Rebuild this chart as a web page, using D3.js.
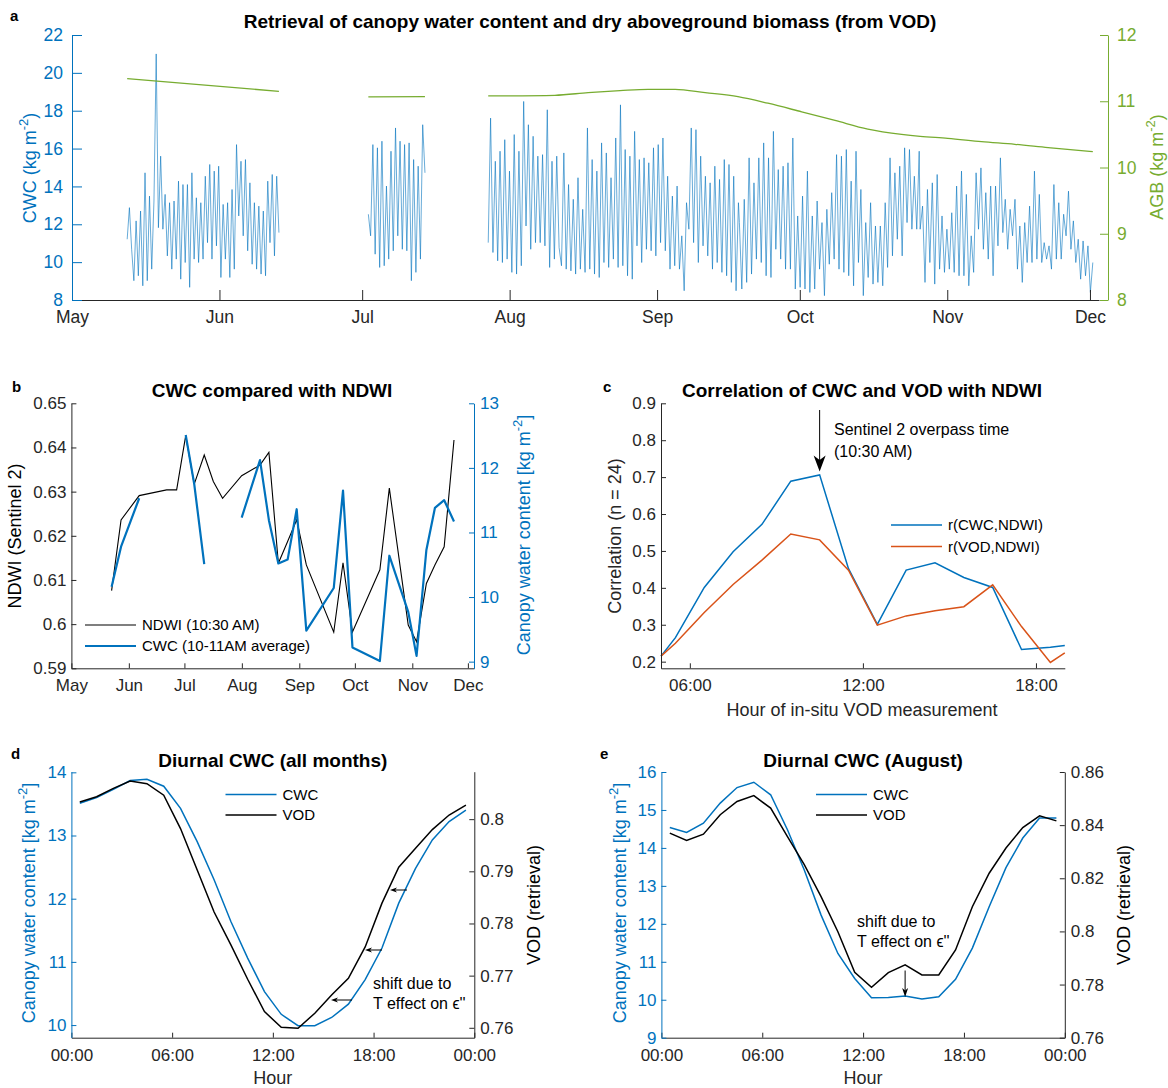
<!DOCTYPE html>
<html>
<head>
<meta charset="utf-8">
<script src="https://cdn.jsdelivr.net/npm/d3@7"></script>
<style>
  body { margin: 0; background: #fff; }
  svg { display: block; }
</style>
</head>
<body>
<svg id="fig" width="1168" height="1088"></svg>
<script>
// ---------------------------------------------------------------------------
// Data
// ---------------------------------------------------------------------------

// Panel a: canopy water content, peaks and troughs of the diurnal cycle
// (kg m-2), one array per continuous stretch of record.
const cwcMayJun = [11.21, 12.88, 10.68, 9.02, 12.18, 9.28, 12.70, 8.75, 14.72, 9.02, 13.49, 9.63, 13.23, 21.0, 11.82, 15.60, 11.74, 13.58, 10.33, 13.14, 9.63, 13.23, 10.16, 14.28, 9.10, 14.10, 9.98, 14.10, 8.67, 14.72, 10.16, 13.40, 9.98, 13.14, 10.16, 14.54, 11.03, 15.16, 10.16, 14.81, 10.86, 15.07, 9.19, 13.05, 10.16, 13.14, 9.19, 13.84, 9.63, 16.21, 12.44, 15.33, 11.39, 15.42, 10.60, 14.19, 9.89, 13.14, 9.63, 12.96, 9.37, 12.70, 9.28, 14.28, 11.03, 14.63, 10.33, 14.54, 11.56];
const cwcJul = [12.53, 11.39, 16.21, 10.42, 16.04, 9.72, 16.39, 9.81, 14.02, 10.16, 15.86, 10.60, 17.09, 11.39, 16.39, 10.68, 16.21, 10.60, 16.30, 9.02, 15.42, 9.46, 15.07, 10.16, 17.26, 14.72];
const cwcLateJulAug = [11.03, 17.61, 10.51, 15.33, 10.07, 15.86, 9.98, 16.47, 10.16, 14.81, 9.46, 16.74, 9.37, 15.86, 9.81, 18.49, 11.91, 17.26, 10.68, 16.65, 11.03, 15.60, 11.03, 15.68, 10.86, 18.05, 9.72, 15.33, 10.16, 15.60, 10.77];
const cwcAugSep = [9.81, 15.77, 9.63, 14.10, 9.54, 13.32, 9.37, 14.46, 9.63, 12.79, 9.46, 17.09, 9.63, 15.42, 9.37, 14.81, 9.19, 16.30, 9.98, 15.77, 9.72, 14.46, 10.16, 16.56, 9.72, 18.31, 9.81, 15.95, 9.28, 15.60, 9.10, 16.91, 10.86, 15.42, 9.98, 15.51, 10.68, 15.25, 10.60, 16.04, 10.33, 16.21, 11.03, 16.56, 10.60, 14.54, 9.63, 13.49, 9.81, 14.02, 9.63, 11.39, 8.49, 13.14, 11.74, 17.09, 11.03, 17.00, 9.98, 15.60, 10.86, 14.54, 10.33, 14.19, 9.63, 15.07, 9.98, 14.37, 9.46, 15.42, 9.28, 15.16, 8.93, 14.54, 8.49, 13.14];
const cwcSepOct = [12.09, 8.58, 13.32, 8.93, 15.51, 9.37, 14.19, 10.16, 15.51, 9.98, 16.30, 9.28, 15.51, 9.19, 16.91, 10.68, 14.89, 10.16, 15.07, 9.63, 15.25, 9.63, 16.56, 8.58, 12.44, 8.67, 13.49, 8.58, 14.81, 8.40, 12.44, 8.58, 13.23, 9.63, 12.09, 8.23, 12.79, 9.89, 13.67, 10.16, 15.68, 9.63, 15.60, 9.46, 15.95, 9.28, 14.28, 8.75, 15.86, 9.98, 13.84, 8.23, 12.09, 9.19, 13.14, 8.84, 11.91, 8.93, 11.91, 8.75, 13.14, 9.72, 15.51, 10.33, 14.72, 11.21, 15.07, 10.33, 16.04, 12.09, 15.95, 11.74, 14.54, 11.74, 15.86];
const cwcOctNov = [11.74, 12.96, 8.93, 13.84, 9.98, 14.19, 8.84, 14.63, 9.63, 12.44, 9.46, 11.74, 9.63, 12.61, 9.46, 14.02, 9.28, 14.81, 9.28, 13.58, 8.75, 11.39, 9.46, 14.72, 11.74, 14.98, 10.68, 13.67, 10.16, 14.02, 9.28, 14.02, 10.86, 15.51, 11.56, 13.32, 10.68, 12.79, 11.39, 13.32, 9.63, 11.91, 8.93, 12.09, 9.98, 12.96, 9.98, 14.81, 10.16, 13.58, 9.98, 11.03, 10.16, 10.86, 9.63, 14.10, 10.16, 13.14, 10.16, 12.53, 11.39, 13.75, 10.68, 12.18, 9.98, 11.21, 9.10, 11.12, 9.28, 10.86, 8.40, 9.98];
// First and last day (days after 1 May) covered by each stretch above
const cwcSpans = [[11.6, 43.5], [62.3, 74.2], [87.5, 102.4], [102.9, 140.1], [140.3, 178.1], [178.3, 214.6]];

// Panel a: dry aboveground biomass (kg m-2)
const agbDays1 = [11.6, 43.5];
const agb1 = [11.34, 11.15];
const agbDays2 = [62.3, 74.2];
const agb2 = [11.065, 11.07];
const agbDays3 = [87.5, 101.5, 108.5, 115.2, 121.1, 126.8, 133.1, 140.0, 146.3, 153.4, 160.4, 167.3, 174.4, 178.3, 184.1, 191.2, 198.2, 205.2, 214.6];
const agb3 = [11.08, 11.09, 11.13, 11.16, 11.18, 11.18, 11.13, 11.07, 10.97, 10.84, 10.71, 10.58, 10.50, 10.47, 10.44, 10.39, 10.35, 10.30, 10.24];
const cwcTicksA = [8, 10, 12, 14, 16, 18, 20, 22];
const agbTicks = [8, 9, 10, 11, 12];

// Panel b: Sentinel-2 overpasses (days after 1 May), NDWI and 10-11 AM CWC
const s2Days = [21.7, 26.8, 36.6, 51.4, 56.8, 61.7, 66.3, 71.7, 76.6, 81.6, 91.9, 101.8, 106.6, 111.7, 116.7, 121.6, 126.8, 141.6, 146.6, 151.7, 166.5, 171.6, 181.8, 186.3, 191.6, 196.2, 201.2, 206.5];
const ndwi = [0.6076, 0.6236, 0.6291, 0.6304, 0.6304, 0.6427, 0.6317, 0.6383, 0.6323, 0.6285, 0.6336, 0.6360, 0.6389, 0.6138, 0.6187, 0.6236, 0.6134, 0.5982, 0.6139, 0.5982, 0.6123, 0.6308, 0.5998, 0.5960, 0.6092, 0.6134, 0.6175, 0.6417];
const cwcMorning = [10.16, 10.78, 11.53, null, null, 12.51, 11.75, 10.51, null, null, 11.23, 12.12, 11.19, 10.52, 10.58, 11.36, 9.48, 10.14, 11.65, 9.22, 9.01, 10.64, 9.77, 9.09, 10.73, 11.38, 11.50, 11.17];
const ndwiTicks = [0.59, 0.6, 0.61, 0.62, 0.63, 0.64, 0.65];
const cwcTicksB = [9, 10, 11, 12, 13];

// Panel c: correlation with NDWI by hour of the in-situ measurement
const corrHours = [5, 5.5, 6.5, 7.5, 8.5, 9.5, 10.5, 11.5, 12.5, 13.5, 14.5, 15.5, 16.5, 17.5, 18.5, 19];
const rCwcNdwi = [0.215, 0.265, 0.401, 0.498, 0.572, 0.689, 0.706, 0.452, 0.301, 0.448, 0.468, 0.428, 0.401, 0.233, 0.239, 0.244];
const rVodNdwi = [0.215, 0.250, 0.333, 0.409, 0.475, 0.546, 0.530, 0.448, 0.299, 0.324, 0.338, 0.349, 0.408, 0.295, 0.198, 0.224];
const corrTicks = [0.2, 0.3, 0.4, 0.5, 0.6, 0.7, 0.8, 0.9];
const corrHourTicks = [6, 12, 18];

// Panels d and e: mean diurnal cycles
const diurnalHours = [0.5, 1.5, 2.5, 3.5, 4.5, 5.5, 6.5, 7.5, 8.5, 9.5, 10.5, 11.5, 12.5, 13.5, 14.5, 15.5, 16.5, 17.5, 18.5, 19.5, 20.5, 21.5, 22.5, 23.5];
const cwcAllMonths = [13.51, 13.60, 13.73, 13.87, 13.89, 13.78, 13.43, 12.90, 12.30, 11.64, 11.06, 10.53, 10.17, 9.99, 9.99, 10.12, 10.33, 10.72, 11.22, 11.93, 12.48, 12.93, 13.22, 13.40];
const vodAllMonths = [0.8033, 0.8043, 0.8059, 0.8073, 0.8068, 0.8046, 0.7982, 0.7902, 0.7822, 0.7759, 0.7693, 0.7631, 0.7601, 0.7599, 0.7628, 0.7663, 0.7695, 0.7755, 0.7839, 0.7908, 0.7944, 0.7980, 0.8008, 0.8027];
const cwcAugust = [14.54, 14.41, 14.65, 15.18, 15.59, 15.73, 15.40, 14.48, 13.42, 12.23, 11.22, 10.56, 10.05, 10.06, 10.10, 10.02, 10.08, 10.54, 11.36, 12.45, 13.48, 14.26, 14.79, 14.79];
const vodAugust = [0.8370, 0.8342, 0.8366, 0.8439, 0.8489, 0.8511, 0.8464, 0.8357, 0.8251, 0.8131, 0.7999, 0.7846, 0.7790, 0.7845, 0.7874, 0.7836, 0.7836, 0.7930, 0.8093, 0.8219, 0.8314, 0.8391, 0.8435, 0.8416];
const hourTicks = [0, 6, 12, 18, 24];
const hourTickLabels = ["00:00", "06:00", "12:00", "18:00", "00:00"];
const cwcTicksD = [10, 11, 12, 13, 14];
const vodTicksD = [0.76, 0.77, 0.78, 0.79, 0.8];
const cwcTicksE = [9, 10, 11, 12, 13, 14, 15, 16];
const vodTicksE = [0.76, 0.78, 0.8, 0.82, 0.84, 0.86];

// ---------------------------------------------------------------------------
// Styling and helpers
// ---------------------------------------------------------------------------
const BLUE = "#0072BD", GREEN = "#77AC30", ORANGE = "#D95319", INK = "#262626";
const FONT = '"Liberation Sans", Arial, Helvetica, sans-serif';
const TICK_FS = 17, LABEL_FS = 18, TITLE_FS = 19, LEGEND_FS = 15, NOTE_FS = 16;

const day0 = Date.UTC(2019, 4, 1);
const dt = d => new Date(day0 + d * 864e5);
// Tick numbers without trailing zeros (0.6, 12)
const trim = v => String(+(+v).toFixed(3));

const svg = d3.select("#fig").attr("font-family", FONT);

function styleAxis(g, color, fs) {
  g.attr("font-family", FONT).attr("font-size", fs);
  g.select(".domain").attr("stroke", color).attr("stroke-width", 1);
  g.selectAll(".tick line").attr("stroke", color).attr("stroke-width", 1);
  g.selectAll(".tick text").attr("fill", color);
}

function addAxis(parent, gen, tx, ty, color, fs) {
  const g = parent.append("g").attr("transform", `translate(${tx},${ty})`).call(gen);
  styleAxis(g, color, fs);
  return g;
}

// Rotated axis label with an optional superscript part (e.g. kg m^-2)
function supLabel(parent, x, y, rot, pre, sup, post, color, fs) {
  const t = parent.append("text")
    .attr("transform", `translate(${x},${y}) rotate(${rot})`)
    .attr("text-anchor", "middle").attr("fill", color).attr("font-size", fs);
  t.append("tspan").text(pre);
  if (sup) {
    t.append("tspan").attr("dy", -0.45 * fs).attr("font-size", 0.72 * fs).text(sup);
    t.append("tspan").attr("dy", 0.45 * fs).text(post);
  }
  return t;
}

function text(parent, x, y, str, opts = {}) {
  return parent.append("text").attr("x", x).attr("y", y)
    .attr("font-size", opts.fs || LEGEND_FS)
    .attr("font-weight", opts.bold ? "bold" : "normal")
    .attr("text-anchor", opts.anchor || "start")
    .attr("fill", opts.color || "#000")
    .text(str);
}

// Straight arrow with a swept-back head
function arrow(parent, x1, y1, x2, y2, headLen, headW, color = "#000") {
  const dx = x2 - x1, dy = y2 - y1, L = Math.hypot(dx, dy);
  const ux = dx / L, uy = dy / L, px = -uy, py = ux;
  const bx = x2 - ux * headLen, by = y2 - uy * headLen;
  const nx = x2 - ux * headLen * 0.72, ny = y2 - uy * headLen * 0.72;
  parent.append("line").attr("x1", x1).attr("y1", y1).attr("x2", nx).attr("y2", ny)
    .attr("stroke", color).attr("stroke-width", 1);
  parent.append("path")
    .attr("d", `M${x2},${y2}L${bx + px * headW / 2},${by + py * headW / 2}L${nx},${ny}L${bx - px * headW / 2},${by - py * headW / 2}Z`)
    .attr("fill", color);
}

function legendRow(parent, x1, x2, y, color, width, label) {
  parent.append("line").attr("x1", x1).attr("x2", x2).attr("y1", y).attr("y2", y)
    .attr("stroke", color).attr("stroke-width", width);
  text(parent, x2 + 6, y + 5, label, { fs: LEGEND_FS });
}

// ---------------------------------------------------------------------------
// Panel a: CWC and AGB time series
// ---------------------------------------------------------------------------
{
  const g = svg.append("g");
  const x = d3.scaleUtc().domain([dt(0), dt(215.9)]).range([72, 1099]);
  const y = d3.scaleLinear().domain([8, 22]).range([300, 35]);
  const y2 = d3.scaleLinear().domain([8, 12]).range([300, 35]);

  const chunks = [cwcMayJun, cwcJul, cwcLateJulAug, cwcAugSep, cwcSepOct, cwcOctNov];
  const pts = [];
  chunks.forEach((vals, i) => {
    const [s, e] = cwcSpans[i];
    if (i > 0 && s - cwcSpans[i - 1][1] > 2) pts.push(null);
    vals.forEach((v, j) => pts.push({ t: dt(s + (e - s) * j / (vals.length - 1)), v }));
  });
  const line = d3.line().defined(d => d !== null).x(d => x(d.t)).y(d => y(d.v));
  g.append("path").datum(pts).attr("d", line)
    .attr("fill", "none").attr("stroke", BLUE).attr("stroke-width", 0.8)
    .attr("stroke-opacity", 0.75).attr("stroke-linejoin", "round");

  const agbLine = d3.line().curve(d3.curveMonotoneX).x(d => x(dt(d[0]))).y(d => y2(d[1]));
  [[agbDays1, agb1], [agbDays2, agb2], [agbDays3, agb3]].forEach(([days, vals]) => {
    g.append("path").datum(d3.zip(days, vals)).attr("d", agbLine)
      .attr("fill", "none").attr("stroke", GREEN).attr("stroke-width", 1.3);
  });

  addAxis(g, d3.axisBottom(x).ticks(d3.utcMonth.every(1)).tickFormat(d3.utcFormat("%b"))
    .tickSizeInner(-10).tickSizeOuter(0).tickPadding(11), 0, 300, INK, 17.5);
  addAxis(g, d3.axisLeft(y).tickValues(cwcTicksA).tickFormat(trim).tickSizeInner(-10).tickSizeOuter(0).tickPadding(9),
    72, 0, BLUE, 17.5);
  addAxis(g, d3.axisRight(y2).tickValues(agbTicks).tickFormat(trim).tickSizeInner(-8).tickSizeOuter(0).tickPadding(9),
    1108, 0, GREEN, 17.5);

  supLabel(g, 36, 168, -90, "CWC (kg m", "-2", ")", BLUE, LABEL_FS);
  supLabel(g, 1163, 167, -90, "AGB (kg m", "-2", ")", GREEN, LABEL_FS);
  text(g, 590, 28, "Retrieval of canopy water content and dry aboveground biomass (from VOD)",
    { fs: TITLE_FS, bold: true, anchor: "middle" });
  text(g, 10, 21, "a", { fs: 15, bold: true });
}

// ---------------------------------------------------------------------------
// Panel b: CWC compared with NDWI
// ---------------------------------------------------------------------------
{
  const g = svg.append("g");
  const x = d3.scaleUtc().domain([dt(0), dt(217.3)]).range([71.4, 474]);
  const y = d3.scaleLinear().domain([0.59, 0.65]).range([668.3, 403.3]);
  const y2 = d3.scaleLinear().domain([8.897, 13]).range([668.3, 403.3]);

  g.append("path").datum(d3.zip(s2Days, ndwi))
    .attr("d", d3.line().x(d => x(dt(d[0]))).y(d => y(d[1])))
    .attr("fill", "none").attr("stroke", "#000").attr("stroke-width", 1.1);
  g.append("path").datum(d3.zip(s2Days, cwcMorning))
    .attr("d", d3.line().defined(d => d[1] !== null).x(d => x(dt(d[0]))).y(d => y2(d[1])))
    .attr("fill", "none").attr("stroke", BLUE).attr("stroke-width", 2.2).attr("stroke-linejoin", "round");

  addAxis(g, d3.axisBottom(x).ticks(d3.utcMonth.every(1)).tickFormat(d3.utcFormat("%b"))
    .tickSizeInner(-5).tickSizeOuter(0).tickPadding(11), 0, 668.3, INK, TICK_FS);
  addAxis(g, d3.axisLeft(y).tickValues(ndwiTicks).tickFormat(trim).tickSizeInner(-5).tickSizeOuter(0).tickPadding(5),
    71.4, 0, INK, TICK_FS);
  addAxis(g, d3.axisRight(y2).tickValues(cwcTicksB).tickFormat(trim).tickSizeInner(-5).tickSizeOuter(0).tickPadding(6),
    474, 0, BLUE, TICK_FS);

  supLabel(g, 21, 536, -90, "NDWI (Sentinel 2)", null, null, "#000", LABEL_FS);
  supLabel(g, 530, 535, -90, "Canopy water content [kg m", "-2", "]", BLUE, LABEL_FS);
  text(g, 272, 397, "CWC compared with NDWI", { fs: TITLE_FS, bold: true, anchor: "middle" });
  text(g, 12, 392, "b", { fs: 15, bold: true });

  legendRow(g, 85, 136, 625, "#000", 1.1, "NDWI (10:30 AM)");
  legendRow(g, 85, 136, 646, BLUE, 2.2, "CWC (10-11AM average)");
}

// ---------------------------------------------------------------------------
// Panel c: correlation of CWC and VOD with NDWI
// ---------------------------------------------------------------------------
{
  const g = svg.append("g");
  const x = d3.scaleLinear().domain([5, 19]).range([661, 1064.8]);
  const y = d3.scaleLinear().domain([0.182, 0.9]).range([668.3, 403.3]);
  const line = d3.line().x(d => x(d[0])).y(d => y(d[1]));

  g.append("path").datum(d3.zip(corrHours, rCwcNdwi)).attr("d", line)
    .attr("fill", "none").attr("stroke", BLUE).attr("stroke-width", 1.5);
  g.append("path").datum(d3.zip(corrHours, rVodNdwi)).attr("d", line)
    .attr("fill", "none").attr("stroke", ORANGE).attr("stroke-width", 1.5);

  addAxis(g, d3.axisBottom(x).tickValues(corrHourTicks)
    .tickFormat(h => String(h % 24).padStart(2, "0") + ":00")
    .tickSizeInner(-5).tickSizeOuter(0).tickPadding(11), 0, 668.3, INK, TICK_FS);
  addAxis(g, d3.axisLeft(y).tickValues(corrTicks).tickFormat(trim).tickSizeInner(-5).tickSizeOuter(0).tickPadding(5),
    661, 0, INK, TICK_FS);

  supLabel(g, 621, 536, -90, "Correlation (n = 24)", null, null, INK, LABEL_FS);
  text(g, 862, 716, "Hour of in-situ VOD measurement", { fs: LABEL_FS, anchor: "middle", color: INK });
  text(g, 862, 397, "Correlation of CWC and VOD with NDWI", { fs: TITLE_FS, bold: true, anchor: "middle" });
  text(g, 603, 392, "c", { fs: 15, bold: true });

  arrow(g, x(10.5), 410, x(10.5), 471.5, 16, 12);
  text(g, 834, 435, "Sentinel 2 overpass time", { fs: NOTE_FS });
  text(g, 834, 457, "(10:30 AM)", { fs: NOTE_FS });

  legendRow(g, 891, 942, 525, BLUE, 1.5, "r(CWC,NDWI)");
  legendRow(g, 891, 942, 546.5, ORANGE, 1.5, "r(VOD,NDWI)");
}

// ---------------------------------------------------------------------------
// Panels d and e: diurnal CWC and VOD
// ---------------------------------------------------------------------------
function diurnalPanel(o) {
  const g = svg.append("g");
  const x = d3.scaleLinear().domain([0, 24]).range([o.left, o.right]);
  const y = d3.scaleLinear().domain(o.cwcDomain).range([1037.7, o.top]);
  const y2 = d3.scaleLinear().domain(o.vodDomain).range([1037.7, o.top]);

  g.append("path").datum(d3.zip(diurnalHours, o.cwc))
    .attr("d", d3.line().x(d => x(d[0])).y(d => y(d[1])))
    .attr("fill", "none").attr("stroke", BLUE).attr("stroke-width", 1.5);
  g.append("path").datum(d3.zip(diurnalHours, o.vod))
    .attr("d", d3.line().x(d => x(d[0])).y(d => y2(d[1])))
    .attr("fill", "none").attr("stroke", "#000").attr("stroke-width", 1.5);

  addAxis(g, d3.axisBottom(x).tickValues(hourTicks).tickFormat((d, i) => hourTickLabels[i])
    .tickSizeInner(-5).tickSizeOuter(0).tickPadding(11), 0, 1037.7, INK, TICK_FS);
  addAxis(g, d3.axisLeft(y).tickValues(o.cwcTicks).tickFormat(trim).tickSizeInner(-5).tickSizeOuter(0).tickPadding(5),
    o.left, 0, BLUE, TICK_FS);
  addAxis(g, d3.axisRight(y2).tickValues(o.vodTicks).tickFormat(trim).tickSizeInner(-5).tickSizeOuter(0).tickPadding(6),
    o.right, 0, INK, TICK_FS);

  const mid = (o.left + o.right) / 2;
  supLabel(g, o.leftLabelX, 903, -90, "Canopy water content [kg m", "-2", "]", BLUE, LABEL_FS);
  supLabel(g, o.rightLabelX, 905, -90, "VOD (retrieval)", null, null, "#000", LABEL_FS);
  text(g, mid, 1084, "Hour", { fs: LABEL_FS, anchor: "middle", color: INK });
  text(g, mid, 767, o.title, { fs: TITLE_FS, bold: true, anchor: "middle" });
  text(g, o.letterX, 759, o.letter, { fs: 15, bold: true });

  legendRow(g, o.legendX, o.legendX + 51, 794.5, BLUE, 1.5, "CWC");
  legendRow(g, o.legendX, o.legendX + 51, 815, "#000", 1.5, "VOD");
  return { g, x, y, y2 };
}

{
  const p = diurnalPanel({
    left: 71.4, right: 474.3, top: 771.7,
    cwcDomain: [9.8, 14.01], vodDomain: [0.7581, 0.8091],
    cwc: cwcAllMonths, vod: vodAllMonths,
    cwcTicks: cwcTicksD, vodTicks: vodTicksD,
    leftLabelX: 35, rightLabelX: 540,
    title: "Diurnal CWC (all months)", letter: "d", letterX: 11, legendX: 225.5
  });
  arrow(p.g, 407, 890, 390, 890, 7, 5);
  arrow(p.g, 382, 950, 365, 950, 7, 5);
  arrow(p.g, 352, 1000, 331, 1000, 7, 5);
  text(p.g, 373, 989, "shift due to", { fs: NOTE_FS });
  text(p.g, 373, 1009, "T effect on \u03F5''", { fs: NOTE_FS });
}

{
  const p = diurnalPanel({
    left: 661.4, right: 1064.8, top: 772,
    cwcDomain: [9, 16], vodDomain: [0.76, 0.86],
    cwc: cwcAugust, vod: vodAugust,
    cwcTicks: cwcTicksE, vodTicks: vodTicksE,
    leftLabelX: 626, rightLabelX: 1130,
    title: "Diurnal CWC (August)", letter: "e", letterX: 600, legendX: 816
  });
  arrow(p.g, p.x(14.5), 970.5, p.x(14.5), 997, 9, 6);
  text(p.g, 857, 927, "shift due to", { fs: NOTE_FS });
  text(p.g, 857, 947, "T effect on \u03F5''", { fs: NOTE_FS });
}
</script>
</body>
</html>
